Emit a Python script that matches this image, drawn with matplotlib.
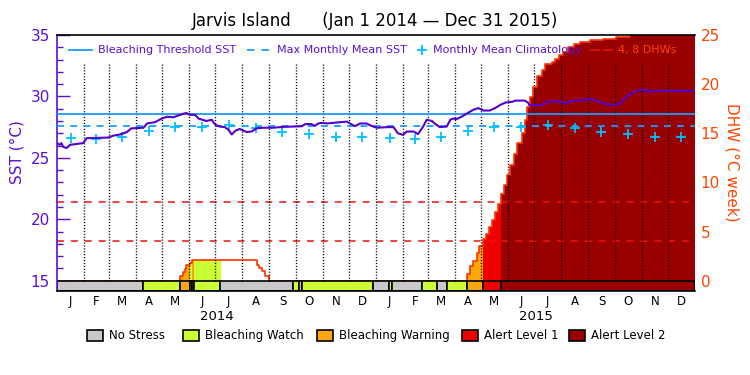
import numpy as np
import pandas as pd
import matplotlib
matplotlib.use("Agg")
import matplotlib.pyplot as plt
from matplotlib.lines import Line2D
from matplotlib.patches import Rectangle
from matplotlib.ticker import MultipleLocator

# ---- data ----
# days since Jan 1 2014
sst_day = [0, 3, 5, 7, 11, 15, 30, 34, 59, 64, 72, 80, 85, 99, 103, 112, 120, 126,
           133, 139, 145, 148, 152, 158, 162, 166, 171, 177, 181, 186, 192, 196,
           200, 204, 209, 217, 223, 228, 236, 247, 259, 280, 284, 291, 295, 299,
           303, 309, 324, 332, 335, 341, 347, 354, 360, 366, 373, 379, 385, 390,
           396, 400, 408, 413, 419, 423, 429, 432, 438, 446, 450, 453, 457, 463,
           470, 476, 482, 488, 495, 501, 507, 513, 522, 524, 535, 539, 541, 547,
           556, 560, 576, 581, 585, 593, 606, 616, 621, 629, 634, 644, 648, 654,
           659, 665, 676, 678, 682, 697, 730]
sst_val = [26.2, 26.06, 26.2, 25.9, 25.8, 26.06, 26.2, 26.6, 26.65, 26.8, 26.9,
           27.1, 27.4, 27.45, 27.8, 27.9, 28.2, 28.35, 28.3, 28.45, 28.6, 28.65,
           28.5, 28.5, 28.2, 28.1, 28.0, 28.1, 27.7, 27.55, 27.5, 27.3, 26.9, 27.2,
           27.35, 27.1, 27.15, 27.4, 27.45, 27.45, 27.52, 27.57, 27.75, 27.75, 27.6,
           27.8, 27.85, 27.8, 27.9, 27.95, 27.8, 27.58, 27.8, 27.8, 27.6, 27.45,
           27.48, 27.5, 27.5, 27.0, 26.87, 27.14, 27.14, 26.93, 27.55, 28.1, 28.0,
           27.8, 27.5, 27.55, 28.1, 28.2, 28.15, 28.35, 28.65, 28.9, 29.05, 28.85,
           28.85, 29.04, 29.3, 29.5, 29.58, 29.66, 29.66, 29.5, 29.23, 29.3, 29.3,
           29.58, 29.58, 29.4, 29.58, 29.63, 29.77, 29.72, 29.5, 29.37, 29.3, 29.4,
           29.72, 30.12, 30.3, 30.5, 30.5, 30.34, 30.45, 30.47, 30.45]

# monthly mean climatology, Jan..Dec
clim = [26.65, 26.5, 26.7, 27.2, 27.5, 27.55, 27.65, 27.4, 27.1, 26.9, 26.7, 26.7]
mmm_sst = 27.57
threshold_sst = 28.57
dhw_lines = [4, 8]

dhw_day = [0, 141, 144, 146, 148, 152, 154.5, 229, 231, 234, 238, 242,
           469.5, 472.5, 476.3, 480, 483.2, 487, 491, 494.6, 498, 501.5, 505,
           508.4, 512, 515, 518, 523, 526, 532, 535.5, 537.5, 541, 545, 549,
           554.5, 558, 566, 570, 574, 579, 585, 591, 598, 610, 625, 640, 656,
           670, 690, 730]
dhw_val = [0, 0.5, 0.85, 1.2, 1.6, 1.8, 2.06, 1.6, 1.3, 0.95, 0.5, 0,
           0.71, 1.45, 2.03, 2.8, 3.56, 4.2, 4.75, 5.45, 6.2, 6.94, 7.8,
           8.84, 9.76, 10.8, 11.8, 12.9, 14.0, 15.0, 16.4, 17.7, 18.7, 19.7, 20.8,
           21.4, 22.0, 22.3, 22.6, 23.0, 23.3, 23.8, 24.1, 24.3, 24.5, 24.6, 24.8, 25.2,
           25.8, 26.5, 27.0]

# alert status segments: start day, level (0 no stress .. 4 alert 2)
status_start = [0, 98.7, 141, 152, 154, 157, 187, 270, 277, 280.7, 362, 379.5,
                383, 418, 435, 446, 469.5, 487.5, 508.5]
status_level = [0, 1, 2, 1, 2, 1, 0, 1, 0, 1, 0, 1, 0, 1, 0, 1, 2, 3, 4]
status_end = 730

status_names = ["No Stress", "Bleaching Watch", "Bleaching Warning",
                "Alert Level 1", "Alert Level 2"]
status_colors = ["#c8c8c8", "#ccff33", "#f9a70b", "#ee0000", "#990000"]

purple = "#5a10d0"
line_purple = "#5500cc"
blue = "#1a9cff"
cyan = "#00bfff"
orange = "#ff4400"

plt.rcParams["lines.scale_dashes"] = False
plt.rcParams["font.family"] = "DejaVu Sans"

W, H = 750, 375
def fx(px):
    return px / W
def fy(py):
    return 1 - py / H

fig = plt.figure(figsize=(7.5, 3.75), dpi=100)
ax = fig.add_axes([fx(57), fy(290.5), (695 - 57) / W, (290.5 - 35) / H])
ax2 = ax.twinx()
ax.set_zorder(ax2.get_zorder() + 1)
ax.patch.set_visible(False)

ax.set_xlim(0, 730)
ax.set_ylim(14.2, 35)
ax2.set_ylim(-1.0, 25)

# month bookkeeping
months = pd.date_range("2014-01-01", "2015-12-31", freq="MS")
t0 = pd.Timestamp("2014-01-01")
month_start = np.array([(m - t0).days for m in months])
month_len = np.array([m.days_in_month for m in months])
month_mid = month_start + month_len / 2.0
month_lab = [m.strftime("%b")[0] for m in months]

# ---- DHW fill, coloured by alert status ----
ends = status_start[1:] + [status_end]
y0, y1 = ax2.get_ylim()
for s, e, lvl in zip(status_start, ends, status_level):
    if lvl == 0:
        continue
    poly = ax2.fill_between(dhw_day, dhw_val, 0, step="post",
                            color=status_colors[lvl], lw=0, zorder=1)
    # rectangle clip -> becomes the clip box, so keep it inside the axes
    poly.set_clip_path(Rectangle((s, y0), e - s, y1 - y0, transform=ax2.transData))
ax2.step(dhw_day, dhw_val, where="post", color="#ff3300", lw=1.2, zorder=2)
for d in dhw_lines:
    ax2.axhline(d, color="#ee1111", lw=1.1, ls=(0, (5, 5)), zorder=3)

# ---- status bar ----
widths = np.array(ends) - np.array(status_start)
ax.bar(status_start, 15 - 14.2, width=widths, bottom=14.2, align="edge",
       color=[status_colors[l] for l in status_level], edgecolor="black",
       linewidth=1.2, zorder=2)

# month dividers
ax.vlines(month_start[1:], 15, 32.7, colors="black", lw=1.0,
          linestyles=(0, (0.8, 1.3)), zorder=3)

# ---- SST ----
ax.axhline(threshold_sst, color=blue, lw=1.3, zorder=4)
ax.axhline(mmm_sst, color=blue, lw=1.3, ls=(0, (5, 4.5)), zorder=4)
ax.plot(month_mid, clim * 2, ls="none", marker="+", ms=7, mew=1.3,
        color=cyan, zorder=5)
ax.plot(sst_day, sst_val, color=line_purple, lw=1.5, zorder=6)

# ---- axes styling ----
ax.set_yticks([15, 20, 25, 30, 35])
ax.yaxis.set_minor_locator(MultipleLocator(1))
ax.tick_params(axis="y", which="major", direction="in", length=9.5, width=1,
               color=purple, labelcolor=purple, labelsize=11, pad=5)
ax.tick_params(axis="y", which="minor", direction="in", length=4.5, width=1,
               color=purple)
ax.set_xticks(month_mid)
ax.set_xticklabels(month_lab)
ax.tick_params(axis="x", length=0, labelsize=8.5, pad=3)

ax2.set_yticks([0, 5, 10, 15, 20, 25])
ax2.tick_params(axis="y", length=0, labelcolor=orange, labelsize=11, pad=4)

for sp in ax2.spines.values():
    sp.set_visible(False)
ax.spines["right"].set_visible(False)
ax.spines["left"].set_color(purple)
ax.spines["left"].set_linewidth(1.2)
ax.spines["top"].set_linewidth(1.2)
ax.spines["bottom"].set_linewidth(1.2)

for yr, mid in [("2014", 182.5), ("2015", 547.5)]:
    ax.text(mid, -0.1, yr, transform=ax.get_xaxis_transform(), ha="center",
            va="center", fontsize=9.5)

fig.text(fx(17), fy(152), "SST (°C)", rotation=90, color=purple, fontsize=11,
         ha="center", va="center")
fig.text(fx(732), fy(162), "DHW (°C week)", rotation=270, color=orange,
         fontsize=11, ha="center", va="center")
fig.text(0.5, fy(21), "Jarvis Island      (Jan 1 2014 \u2014 Dec 31 2015)",
         fontsize=12, ha="center", va="center")

# ---- top legend ----
ly = fy(50)
fig.add_artist(Line2D([fx(69), fx(92)], [ly, ly], transform=fig.transFigure,
                      color=blue, lw=1.3))
fig.text(fx(98), ly, "Bleaching Threshold SST", color=purple, fontsize=8, va="center")
fig.add_artist(Line2D([fx(247), fx(269)], [ly, ly], transform=fig.transFigure,
                      color=blue, lw=1.3, ls=(0, (5.4, 5))))
fig.text(fx(277), ly, "Max Monthly Mean SST", color=purple, fontsize=8, va="center")
fig.add_artist(Line2D([fx(421.7)], [ly], transform=fig.transFigure, ls="none",
                      marker="+", ms=7, mew=1.3, color=cyan))
fig.text(fx(433), ly, "Monthly Mean Climatology", color=purple, fontsize=8, va="center")
fig.add_artist(Line2D([fx(590), fx(615)], [ly, ly], transform=fig.transFigure,
                      color="#ee1111", lw=1.1, ls=(0, (7.2, 2.2))))
fig.text(fx(618), ly, "4, 8 DHWs", color=orange, fontsize=8, va="center")

# ---- bottom legend ----
box_x = [87, 183, 317, 461.7, 569]
for bx, name, col in zip(box_x, status_names, status_colors):
    fig.add_artist(Rectangle((fx(bx), fy(341)), 16 / W, 11 / H,
                             transform=fig.transFigure, facecolor=col,
                             edgecolor="black", lw=1.2))
    fig.text(fx(bx + 22), fy(335.5), name, fontsize=8.5, va="center")

fig.savefig("out.png", dpi=100)
